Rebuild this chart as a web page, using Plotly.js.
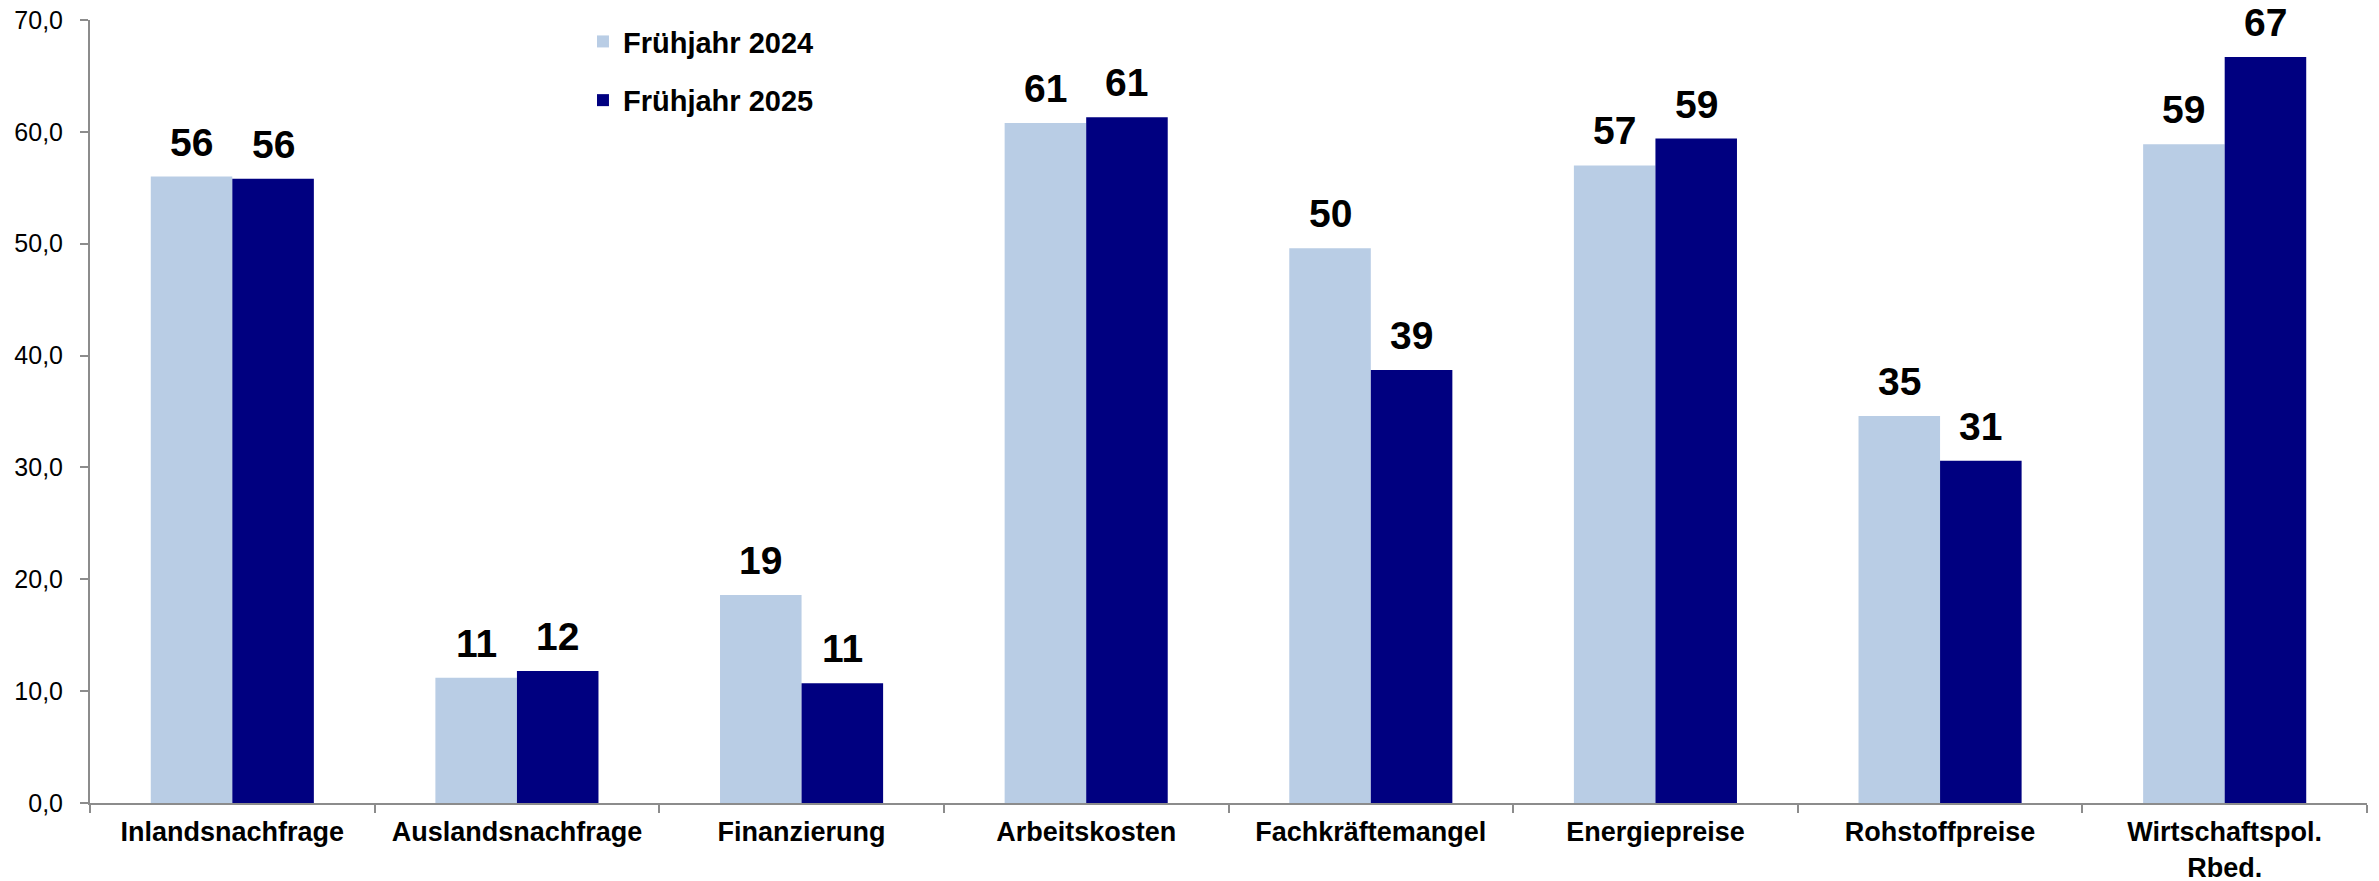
<!DOCTYPE html>
<html>
<head>
<meta charset="utf-8">
<script src="https://cdn.plot.ly/plotly-3.0.1.min.js"></script>
<style>html,body{margin:0;padding:0;background:#fff;}#chart{width:2379px;height:881px;}</style>
</head>
<body>
<div id="chart"></div>
<script>
const categories = ["Inlandsnachfrage", "Auslandsnachfrage", "Finanzierung", "Arbeitskosten", "Fachkräftemangel", "Energiepreise", "Rohstoffpreise", "Wirtschaftspol.<br>Rbed."];
const seriesNames = ["Frühjahr 2024", "Frühjahr 2025"];
const values2024 = [56.0, 11.2, 18.6, 60.8, 49.6, 57.0, 34.6, 58.9];
const values2025 = [55.8, 11.8, 10.7, 61.3, 38.7, 59.4, 30.6, 66.7];
const yTicks = [0, 10, 20, 30, 40, 50, 60, 70];

const colors = ["#B9CDE5", "#000080"];
const bargap = 0.427;
const font = "Liberation Sans, Arial, sans-serif";

const traces = [values2024, values2025].map((vals, k) => ({
  type: "bar",
  name: seriesNames[k],
  x: categories,
  y: vals,
  marker: {color: colors[k], line: {width: 0}},
  legendgroup: "g" + k,
  hoverinfo: "skip"
}));

const barW = (1 - bargap) / 2;
const annotations = [];
[values2024, values2025].forEach((vals, k) => {
  vals.forEach((v, i) => {
    annotations.push({
      x: i + (k === 0 ? -barW / 2 : barW / 2),
      y: v,
      xref: "x", yref: "y",
      text: String(Math.round(v)),
      showarrow: false,
      yanchor: "bottom",
      yshift: 12,
      borderpad: 0,
      font: {family: font, size: 39, color: "#000", weight: "bold"}
    });
  });
});

const layout = {
  width: 2379, height: 881,
  margin: {l: 90, r: 12, t: 20, b: 78},
  paper_bgcolor: "#fff", plot_bgcolor: "#fff",
  barmode: "group",
  bargap: bargap,
  bargroupgap: 0,
  separators: ",.",
  showlegend: true,
  legend: {
    x: 0.2165, y: 1.005, xanchor: "left", yanchor: "top",
    traceorder: "grouped", tracegroupgap: 18,
    font: {family: font, size: 29, color: "#000", weight: "bold"},
    bgcolor: "rgba(0,0,0,0)"
  },
  xaxis: {
    type: "category",
    tickmode: "array",
    tickvals: categories,
    ticktext: categories,
    tickson: "boundaries",
    ticks: "outside", ticklen: 8, tickwidth: 2, tickcolor: "#8c8c8c",
    showline: true, linecolor: "#8c8c8c", linewidth: 2,
    showgrid: false, zeroline: false,
    ticklabelstandoff: 4,
    tickfont: {family: font, size: 27, color: "#000", weight: "bold"},
    range: [-0.5, categories.length - 0.5],
    fixedrange: true
  },
  yaxis: {
    range: [0, 70],
    tickmode: "array",
    tickvals: yTicks,
    tickformat: ".1f",
    ticks: "outside", ticklen: 8, tickwidth: 2, tickcolor: "#8c8c8c",
    showline: true, linecolor: "#8c8c8c", linewidth: 2,
    showgrid: false, zeroline: false,
    ticklabelstandoff: 12,
    tickfont: {family: font, size: 25, color: "#000"},
    fixedrange: true
  },
  annotations: annotations
};

Plotly.newPlot("chart", traces, layout, {displayModeBar: false, staticPlot: true});
</script>
</body>
</html>
